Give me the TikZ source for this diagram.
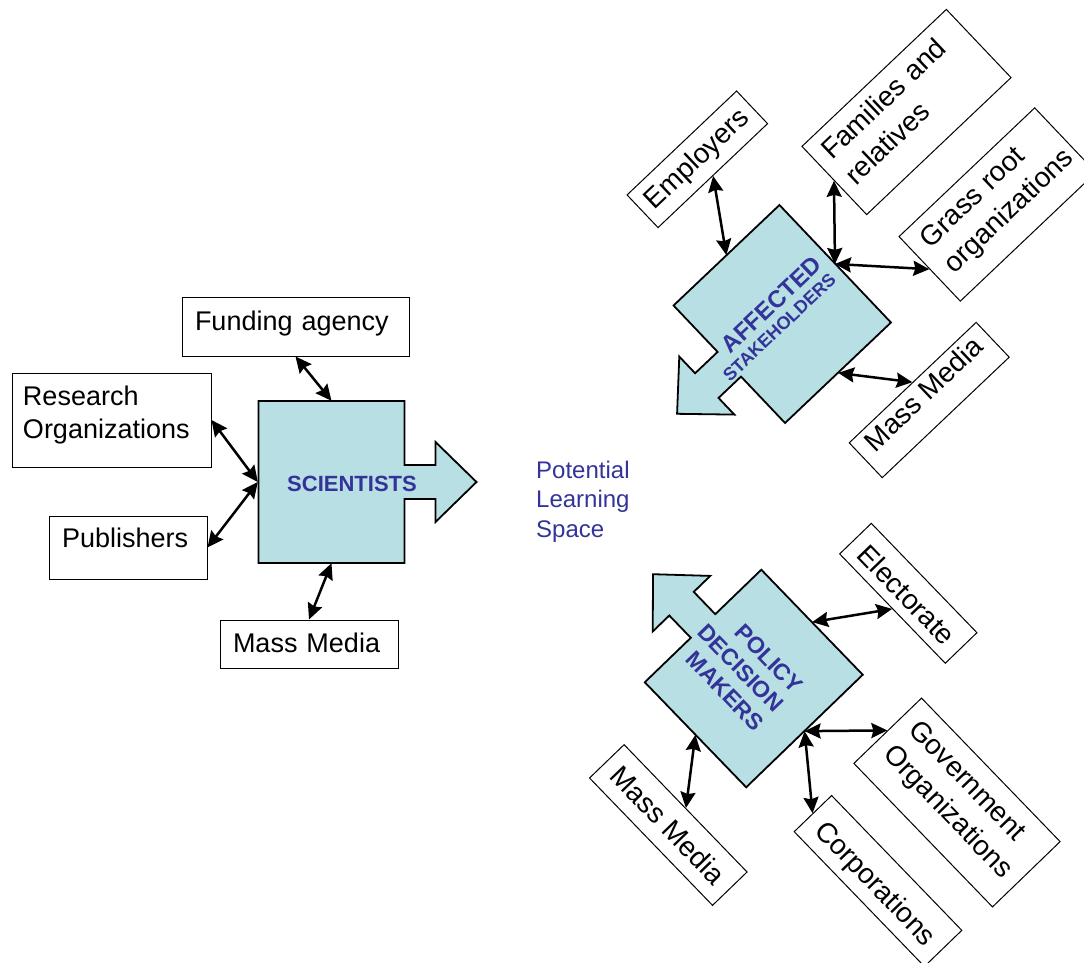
\documentclass[tikz,border=0pt]{standalone}
\usepackage{fontspec}
\setmainfont{Liberation Sans}
\usetikzlibrary{arrows.meta, positioning}
\definecolor{corefill}{RGB}{184,223,227}
\definecolor{coretext}{RGB}{51,51,153}
\hyphenpenalty=10000
\exhyphenpenalty=10000

\begin{document}
\begin{tikzpicture}[x=1pt, y=-1pt,
  actor/.style={draw, line width=1pt, inner sep=0pt, font=\fontsize{27}{33}\selectfont},
  ractor/.style={draw, line width=1pt, inner sep=0pt, font=\fontsize{28}{35}\selectfont},
  core/.style={minimum height=162pt, inner sep=0pt},
  coreshape/.pic={
    \draw[line width=1.8pt, fill=corefill] (-73,-81) -- (73,-81) -- (73,-17) -- (104,-17) -- (104,-40) -- (145,0) -- (104,40) -- (104,17) -- (73,17) -- (73,81) -- (-73,81) -- cycle;
  },
  corelabel/.style={text=coretext, inner sep=0pt, font=\bfseries\fontsize{22}{26}\selectfont},
  link/.style={{Stealth[length=16pt,width=15pt,inset=2pt]}-{Stealth[length=16pt,width=15pt,inset=2pt]}, line width=2.5pt}
]
  \useasboundingbox (0,0) rectangle (1084,963);
  \clip (0,0) rectangle (1084,963);

  % Scientists
  \pic at (331.5,482) {coreshape};
  \node[core, minimum width=147pt] (sci) at (331.5,482) {};
  \node[corelabel] (scilabel) at (352,484) {SCIENTISTS};

  \node[actor, minimum width=227pt, minimum height=59pt, inner xsep=13pt, text width=201pt, align=left, text height=20pt, text depth=13pt] (fund) at (295.5,326.5) {Funding agency};
  \node[actor, minimum width=199pt, minimum height=94pt, inner xsep=11pt, text width=177pt, align=left, text height=20pt, text depth=50pt] (res) at (111.5,420) {Research\\Organizations};
  \node[actor, minimum width=158pt, minimum height=63pt, inner xsep=13pt, text width=132pt, align=left, text height=20pt, text depth=21pt] (pub) at (128,547.5) {Publishers};
  \node[actor, minimum width=178pt, minimum height=48pt, inner xsep=13pt, text width=152pt, align=left, text height=20pt, text depth=4pt] (mml) at (309,644) {Mass Media};

  % Affected stakeholders
  \pic[rotate=223.5] at (782.25,314) {coreshape};
  \node[core, minimum width=145pt, rotate=43.5] (stake) at (782.25,314) {};
  \node[corelabel, rotate=43.5, text width=150pt, align=right, font=\bfseries\fontsize{24}{20}\selectfont] (stakelabel) at (770.2,319.4) {AFFECTED\\{\fontsize{18}{20}\selectfont STAKEHOLDERS}};

  \node[ractor, rotate=43.5, minimum width=151pt, minimum height=45pt, text height=20pt, text depth=4pt] (emp) at (697.3,159.3) {Employers};
  \node[ractor, rotate=43.5, minimum width=199pt, minimum height=94pt, inner xsep=12pt, text width=175pt, align=left, text height=20pt, text depth=52pt] (fam) at (906.5,112) {Families and\\relatives};
  \node[ractor, rotate=43.5, minimum width=187pt, minimum height=89pt, inner xsep=14pt, text width=159pt, align=left, text height=20pt, text depth=48pt] (grass) at (997.5,204.5) {Grass root\\organizations};
  \node[ractor, rotate=43.5, minimum width=175pt, minimum height=48pt, text height=20pt, text depth=17pt] (mms) at (929.2,400) {Mass Media};

  % Policy decision makers
  \pic[rotate=134] at (753.75,678.5) {coreshape};
  \node[core, minimum width=146pt, rotate=-46] (pol) at (753.75,678.5) {};
  \node[corelabel, rotate=-46, text width=114pt, align=right, font=\bfseries\fontsize{23}{27}\selectfont] (pollabel) at (739.7,667.1) {POLICY\\DECISION\\MAKERS};

  \node[ractor, rotate=-46, minimum width=152pt, minimum height=44pt, text height=25pt, text depth=1pt] (ele) at (908.3,593.3) {Electorate};
  \node[ractor, rotate=-46, minimum width=199.5pt, minimum height=94pt, inner xsep=14pt, text width=171.5pt, align=left, text height=20pt, text depth=48pt] (gov) at (957,802.5) {Government\\Organizations};
  \node[ractor, rotate=-46, minimum width=187.4pt, minimum height=52pt, text height=25pt, text depth=0pt] (cor) at (878,881) {Corporations};
  \node[ractor, rotate=-46, minimum width=177pt, minimum height=48pt, text height=20pt, text depth=0pt] (mmp) at (668.3,825) {Mass Media};

  % Learning space
  \node[anchor=north west, inner sep=0pt, align=left, text=coretext, font=\fontsize{24}{29.5}\selectfont] (space) at (536,460.5) {Potential\\Learning\\Space};

  % Links
  \draw[link] (fund.south) -- (sci.north);
  \draw[link] (res.east) -- (sci.west);
  \draw[link] (pub.east) -- (sci.west);
  \draw[link] (mml.north) -- (sci.south);
  \draw[link] (emp.south) -- (stake.north);
  \draw[link] (fam.west) -- (stake.east);
  \draw[link] (grass.west) -- (stake.east);
  \draw[link] (mms.north) -- (stake.south);
  \draw[link] (ele.south) -- (pol.north);
  \draw[link] (gov.west) -- (pol.east);
  \draw[link] (cor.west) -- (pol.east);
  \draw[link] (mmp.north) -- (pol.south);
\end{tikzpicture}
\end{document}
